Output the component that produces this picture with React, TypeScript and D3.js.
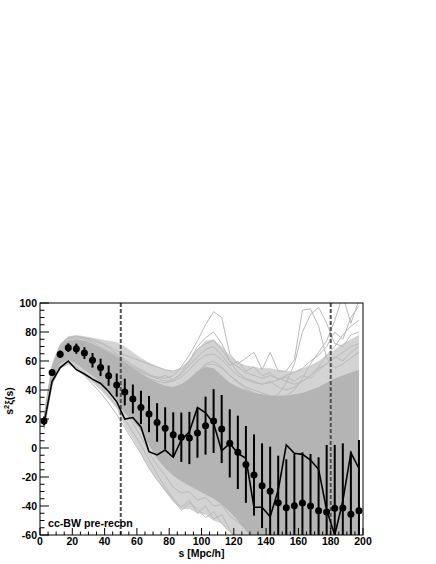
import * as d3 from "d3";

// bin centres, s in Mpc/h
const sBins = [2.5, 7.5, 12.5, 17.5, 22.5, 27.5, 32.5, 37.5, 42.5, 47.5, 52.5, 57.5, 62.5, 67.5, 72.5, 77.5, 82.5, 87.5, 92.5, 97.5,
  102.5, 107.5, 112.5, 117.5, 122.5, 127.5, 132.5, 137.5, 142.5, 147.5, 152.5, 157.5, 162.5, 167.5, 172.5, 177.5, 182.5, 187.5, 192.5, 197.5];

// measured s^2 xi(s) with errors
const xiData = [18.6, 52, 64.6, 69.2, 68.5, 65.5, 60.5, 55.6, 49.9, 43.4, 38.6, 33.8, 28, 23.4, 17.6, 13.6, 9.2, 7.4, 6.9, 10.3,
  15.4, 18.6, 13.1, 3.2, -3, -11.3, -18.6, -26, -29.9, -37.7, -41.2, -39.8, -37.9, -40, -43.2, -44.1, -41.6, -41.4, -45.7, -43.2];
const xiErr = [3, 2, 2.5, 3, 3.5, 4, 5, 6, 7, 8, 9.2, 10, 11.5, 12.5, 13.3, 14.5, 15.4, 17, 18, 17,
  20, 22, 23.5, 23.5, 25.3, 26.5, 28, 29.2, 30.8, 32.4, 33.4, 35.7, 34.9, 35.9, 36.8, 46.2, 43.7, 44.6, 43.2, 48.7];

// black curve
const xiLine = [17, 46, 55.5, 60, 54, 51, 47.5, 44.5, 39, 32, 20, 21, 14.5, -2.5, -4.8, -1.4, -6.4, 5.5, 11.2, 28,
  24.3, 17, -2, 3.2, -3.7, -7.1, -40.9, -40.9, -47.4, -29, 2.1, -3.7, -4.4, -8.3, -14.7, -42.8, -60, -36.7, -3.2, -14];

// mocks: dense core, outer spread, and stray curves
const coreLo = [15, 47, 58, 61, 58, 54, 50, 45, 40, 34, 24, 19, 12, 2, -7, -14, -19, -23, -26, -29,
  -32, -35, -39, -44, -50, -57, -64, -75, -75, -75, -75, -75, -75, -75, -75, -75, -75, -75, -75, -75];
const coreHi = [22, 56, 69, 74, 75, 74, 72, 69, 66, 63, 59, 55, 51, 48, 45, 43, 42, 44, 48, 53,
  56, 55, 50, 45, 42, 40, 38, 37, 36, 36, 36, 37, 38, 40, 42, 45, 48, 50, 52, 54];
const fuzzLo = [13, 44, 55, 58, 55, 50, 45, 40, 34, 27, 15, 6, -4, -14, -22, -30, -37, -42, -42, -45,
  -46, -50, -52, -58, -64, -80, -80, -80, -80, -80, -80, -80, -80, -80, -80, -80, -80, -80, -80, -80];
const fuzzHi = [25, 59, 72, 77, 78, 77, 76, 75, 74, 73, 70, 66, 62, 59, 56, 54, 53, 55, 61, 68,
  74, 75, 70, 64, 59, 57, 56, 55, 55, 54, 53, 53, 55, 57, 60, 64, 68, 72, 75, 78];

const mockA = [20, 55, 70, 74, 74, 72, 70, 67, 64, 62, 58, 55, 52, 50, 49, 48, 50, 56, 64, 74,
  85, 94, 90, 65, 58, 62, 66, 54, 66, 53, 53, 61, 95, 96, 84, 62, 55, 58, 62, 66];
const mockB = [19, 54, 69, 75, 76, 75, 73, 70, 67, 64, 60, 56, 53, 50, 48, 46, 47, 52, 60, 70,
  76, 80, 72, 60, 52, 48, 46, 44, 46, 42, 40, 42, 46, 50, 55, 58, 62, 66, 70, 72];
const mockC = [18, 52, 66, 72, 73, 72, 70, 68, 65, 61, 57, 52, 47, 43, 40, 38, 39, 42, 46, 52,
  57, 58, 55, 50, 46, 42, 40, 38, 36, 35, 36, 40, 48, 58, 66, 74, 88, 105, 86, 102];
const mockD = [17, 50, 65, 71, 72, 71, 69, 66, 63, 59, 55, 50, 46, 42, 39, 37, 38, 41, 46, 52,
  58, 60, 56, 50, 45, 41, 38, 36, 35, 37, 45, 58, 80, 92, 97, 86, 72, 70, 78, 80];
const mockE = [19, 53, 67, 73, 74, 73, 71, 69, 66, 63, 59, 55, 51, 48, 46, 45, 46, 49, 54, 60,
  64, 65, 61, 55, 50, 47, 45, 44, 45, 47, 50, 52, 55, 60, 64, 70, 80, 75, 90, 98];
const mockF = [14, 45, 56, 59, 56, 52, 47, 42, 36, 29, 20, 11, 2, -8, -18, -27, -35, -41, -36, -45,
  -40, -49, -46, -56, -64, -70, -75, -72, -70, -68, -66, -64, -62, -64, -66, -62, -58, -55, -52, -50];
const mockG = [13, 44, 55, 58, 55, 50, 44, 38, 31, 23, 14, 5, -4, -14, -22, -29, -36, -43, -38, -42,
  -48, -44, -52, -58, -62, -66, -70, -68, -66, -65, -64, -62, -60, -58, -57, -55, -53, -52, -50, -48];
const mockH = [21, 56, 71, 76, 77, 76, 75, 73, 70, 67, 64, 62, 60, 58, 56, 54, 53, 55, 60, 68,
  72, 74, 68, 60, 56, 52, 50, 48, 50, 48, 46, 44, 46, 50, 56, 64, 70, 78, 84, 88];
const mockI = [20, 55, 70, 76, 77, 76, 74, 72, 69, 65, 61, 57, 54, 51, 48, 50, 47, 51, 57, 63,
  68, 70, 64, 57, 60, 53, 56, 50, 52, 47, 49, 46, 50, 48, 54, 58, 63, 60, 66, 70];
const mockJ = [16, 48, 60, 63, 60, 56, 51, 46, 41, 35, 26, 17, 8, -3, -12, -19, -27, -31, -30, -36,
  -34, -40, -39, -47, -51, -56, -60, -62, -64, -63, -62, -60, -58, -57, -55, -54, -52, -50, -48, -46];
const mocks = [mockA, mockB, mockC, mockD, mockE, mockF, mockG, mockH, mockI, mockJ];

const yTickLabels = [100, 80, 60, 40, 20, 0, -20, -40, -60];
const xTickLabels = [0, 20, 40, 60, 80, 100, 120, 140, 160, 180, 200];
const fitRange = [50, 180];
const sampleLabel = "cc-BW pre-recon";

export default function App() {
  const W = 436, H = 564;
  const x = d3.scaleLinear().domain([0, 200]).range([40, 363]);
  const y = d3.scaleLinear().domain([-60, 100]).range([535, 303]);
  const font = "'Liberation Sans', Arial, Helvetica, sans-serif";

  const band = (lo: number[], hi: number[]) =>
    d3.area<number>()
      .x((_, i) => x(sBins[i]))
      .y0((_, i) => y(lo[i]))
      .y1((d) => y(d))(hi) || "";
  const line = d3.line<number>().x((_, i) => x(sBins[i])).y((d) => y(d));

  const minorY = y.ticks(32);
  const minorX = x.ticks(40);

  return (
    <svg width={W} height={H} style={{ position: "absolute", left: 0, top: 0, background: "#fff" }}>
      <defs>
        <clipPath id="plot">
          <rect x={40} y={303} width={323} height={232} />
        </clipPath>
      </defs>

      <g clipPath="url(#plot)">
        <path d={band(fuzzLo, fuzzHi)} fill="#d3d3d3" />
        {mocks.map((m, i) => (
          <path key={i} d={line(m) || ""} fill="none" stroke="#bababa" strokeWidth={1} />
        ))}
        <path d={band(coreLo, coreHi)} fill="#b4b4b4" />

        {fitRange.map((v) => (
          <line key={v} x1={x(v)} x2={x(v)} y1={y(100)} y2={y(-60)}
            stroke="#505050" strokeWidth={2} strokeDasharray="4,2" />
        ))}

        {sBins.map((s, i) => (
          <line key={"e" + i} x1={x(s)} x2={x(s)} y1={y(xiData[i] + xiErr[i])} y2={y(xiData[i] - xiErr[i])}
            stroke="#000" strokeWidth={2} />
        ))}
        <path d={line(xiLine) || ""} fill="none" stroke="#000" strokeWidth={1.6} />
        {sBins.map((s, i) => (
          <circle key={"p" + i} cx={x(s)} cy={y(xiData[i])} r={3.5} fill="#000" />
        ))}
      </g>

      {/* frame */}
      <rect x={40} y={303} width={323} height={232} fill="none" stroke="#000" strokeWidth={1} />

      {/* y ticks */}
      {minorY.map((v) => {
        const major = v % 20 === 0;
        return <line key={"yt" + v} x1={40} x2={40 + (major ? 9 : 4.5)} y1={y(v)} y2={y(v)} stroke="#000" strokeWidth={1} />;
      })}
      {yTickLabels.map((v) => (
        <text key={"yl" + v} x={37} y={y(v) + 3.8} textAnchor="end" fontFamily={font} fontWeight="bold" fontSize={10.5} fill="#000">
          {v}
        </text>
      ))}

      {/* x ticks */}
      {minorX.map((v) => {
        const major = v % 20 === 0;
        return <line key={"xt" + v} x1={x(v)} x2={x(v)} y1={535} y2={535 - (major ? 7 : 3.5)} stroke="#000" strokeWidth={1} />;
      })}
      {xTickLabels.map((v) => (
        <text key={"xl" + v} x={x(v)} y={545} textAnchor="middle" fontFamily={font} fontWeight="bold" fontSize={10.5} fill="#000">
          {v}
        </text>
      ))}

      <text x={(40 + 363) / 2} y={557} textAnchor="middle" fontFamily={font} fontWeight="bold" fontSize={10.5} fill="#000">
        s [Mpc/h]
      </text>
      <text transform="translate(13,401) rotate(-90)" textAnchor="middle" fontFamily={font} fontWeight="bold" fontSize={10.5} fill="#000">
        s<tspan fontSize={7.5} dy={-4}>2</tspan><tspan dy={4}>ξ(s)</tspan>
      </text>

      <text x={48} y={527} fontFamily={font} fontWeight="bold" fontSize={10.6} fill="#000">
        {sampleLabel}
      </text>
    </svg>
  );
}
